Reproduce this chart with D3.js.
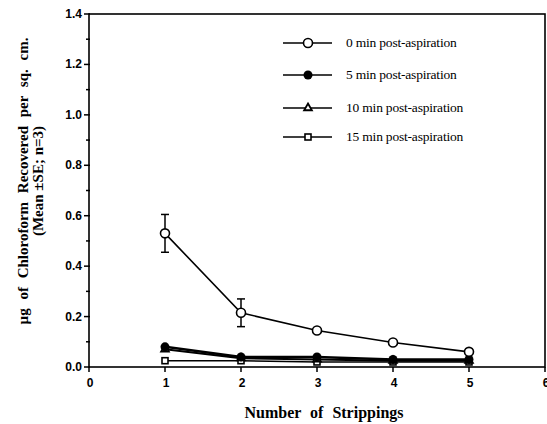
<!DOCTYPE html>
<html lang="en">
<head>
<meta charset="UTF-8">
<title>Chloroform recovered per stripping</title>
<script src="https://d3js.org/d3.v7.min.js"></script>
<style>
    body { margin: 0; background: white; }
    .tick-label { font-family: 'Liberation Sans', Arial, sans-serif; font-weight: bold; font-size: 12px; }
    .axis-title { font-family: 'Liberation Serif', 'Times New Roman', serif; font-weight: bold; }
    .legend-text { font-family: 'Liberation Serif', 'Times New Roman', serif; font-size: 13.5px; letter-spacing: -0.2px; }
</style>
</head>
<body>
<svg id="chart" width="547" height="424"></svg>
<script>
// strippings on the x axis
const strippings = [1, 2, 3, 4, 5];
// series values (ug per sq. cm.)
const min0 = [0.53, 0.215, 0.145, 0.097, 0.06];
const min0SE = [0.075, 0.055, 0, 0, 0];
const min5 = [0.08, 0.04, 0.04, 0.03, 0.03];
const min10 = [0.07, 0.035, 0.03, 0.025, 0.025];
const min15 = [0.025, 0.025, 0.02, 0.02, 0.02];
const seriesNames = ["0 min post-aspiration", "5 min post-aspiration", "10 min post-aspiration", "15 min post-aspiration"];
const xTicks = [0, 1, 2, 3, 4, 5, 6];
const yTicks = [0, 0.2, 0.4, 0.6, 0.8, 1.0, 1.2, 1.4];

const svg = d3.select("#chart");
const plotLeft = 89, plotRight = 545, plotTop = 14, plotBottom = 367;

const x = d3.scaleLinear().domain([0, 6]).range([plotLeft, plotRight]);
const y = d3.scaleLinear().domain([0, 1.4]).range([plotBottom, plotTop]);

// frame
svg.append("rect")
    .attr("x", plotLeft).attr("y", plotTop)
    .attr("width", plotRight - plotLeft).attr("height", plotBottom - plotTop)
    .attr("fill", "none").attr("stroke", "black").attr("stroke-width", 1.6);

// y axis ticks (major + minor)
d3.range(0, 1.41, 0.1).forEach(v => {
    const major = Math.round(v * 10) % 2 === 0;
    svg.append("line")
        .attr("x1", plotLeft - (major ? 5 : 3)).attr("x2", plotLeft + 1)
        .attr("y1", y(v)).attr("y2", y(v))
        .attr("stroke", "black").attr("stroke-width", 1.5);
});
svg.selectAll(".ylab").data(yTicks).join("text")
    .attr("class", "tick-label")
    .attr("x", plotLeft - 7).attr("y", d => y(d) + 4)
    .attr("text-anchor", "end")
    .text(d => d.toFixed(1));

// x axis ticks
xTicks.forEach(v => {
    svg.append("line")
        .attr("x1", x(v)).attr("x2", x(v))
        .attr("y1", plotBottom).attr("y2", plotBottom + 5)
        .attr("stroke", "black").attr("stroke-width", 1.5);
});
svg.selectAll(".xlab").data(xTicks).join("text")
    .attr("class", "tick-label")
    .attr("x", d => x(d) + 1).attr("y", plotBottom + 20)
    .attr("text-anchor", "middle")
    .text(d => d);

// axis titles
svg.append("text").attr("class", "axis-title")
    .attr("x", 324).attr("y", 418)
    .attr("text-anchor", "middle").attr("font-size", 16)
    .attr("word-spacing", 5)
    .text("Number of Strippings");

const yt = svg.append("g").attr("transform", "translate(0,181) rotate(-90)");
yt.append("text").attr("class", "axis-title")
    .attr("x", 0).attr("y", 28)
    .attr("text-anchor", "middle").attr("font-size", 15)
    .attr("word-spacing", 5)
    .text("\u00b5g of Chloroform Recovered per sq. cm.");
yt.append("text").attr("class", "axis-title")
    .attr("x", 0).attr("y", 43)
    .attr("text-anchor", "middle").attr("font-size", 15)
    .text("(Mean \u00b1SE; n=3)");

const line = d3.line().x((d, i) => x(strippings[i])).y(d => y(d));

function drawMarker(g, type, cx, cy) {
    if (type === "circleOpen") {
        g.append("circle").attr("cx", cx).attr("cy", cy).attr("r", 4.5)
            .attr("fill", "white").attr("stroke", "black").attr("stroke-width", 1.6);
    } else if (type === "circleFilled") {
        g.append("circle").attr("cx", cx).attr("cy", cy).attr("r", 4.5)
            .attr("fill", "black");
    } else if (type === "triangle") {
        g.append("path").attr("d", d3.symbol(d3.symbolTriangle, 26)())
            .attr("transform", `translate(${cx},${cy})`)
            .attr("fill", "white").attr("stroke", "black").attr("stroke-width", 1.8);
    } else {
        g.append("rect").attr("x", cx - 3).attr("y", cy - 3)
            .attr("width", 6).attr("height", 6)
            .attr("fill", "white").attr("stroke", "black").attr("stroke-width", 1.6);
    }
}

const series = [
    { vals: min15, marker: "square", w: 1.5 },
    { vals: min10, marker: "triangle", w: 2 },
    { vals: min5, marker: "circleFilled", w: 2.5 },
    { vals: min0, marker: "circleOpen", w: 1.6 }
];

// error bars for 0 min series
const eb = svg.append("g");
min0.forEach((v, i) => {
    const se = min0SE[i];
    if (!se) return;
    const cx = x(strippings[i]);
    eb.append("line").attr("x1", cx).attr("x2", cx)
        .attr("y1", y(v - se)).attr("y2", y(v + se))
        .attr("stroke", "black").attr("stroke-width", 1.5);
    [v - se, v + se].forEach(e => {
        eb.append("line").attr("x1", cx - 4).attr("x2", cx + 4)
            .attr("y1", y(e)).attr("y2", y(e))
            .attr("stroke", "black").attr("stroke-width", 1.5);
    });
});

series.forEach(s => {
    svg.append("path").datum(s.vals)
        .attr("d", line)
        .attr("fill", "none").attr("stroke", "black").attr("stroke-width", s.w);
    const g = svg.append("g");
    s.vals.forEach((v, i) => drawMarker(g, s.marker, x(strippings[i]), y(v)));
});

// legend
const legendMarkers = ["circleOpen", "circleFilled", "triangle", "square"];
const legendY = [43, 75, 108, 137];
seriesNames.forEach((name, i) => {
    const g = svg.append("g");
    g.append("line").attr("x1", 283).attr("x2", 332)
        .attr("y1", legendY[i]).attr("y2", legendY[i])
        .attr("stroke", "black").attr("stroke-width", 1.6);
    drawMarker(g, legendMarkers[i], 308, legendY[i]);
    g.append("text").attr("class", "legend-text")
        .attr("x", 346).attr("y", legendY[i] + 4)
        .text(name);
});
</script>
</body>
</html>
